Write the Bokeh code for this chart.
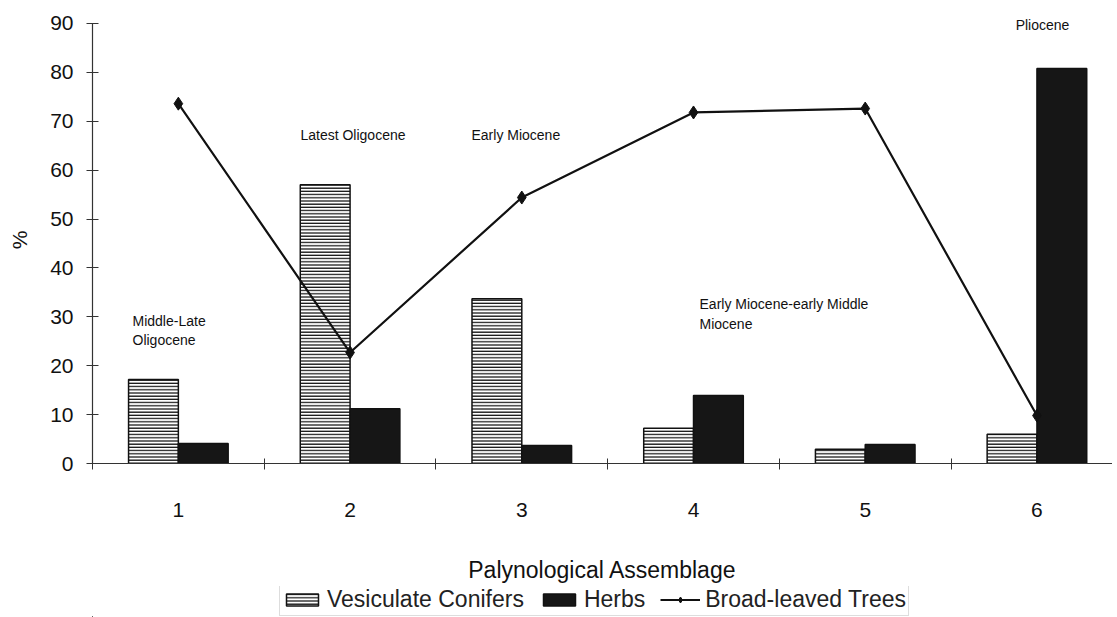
from bokeh.plotting import figure
from bokeh.layouts import column
from bokeh.models import (Range1d, FixedTicker, Legend, LegendItem, Label,
                          ColumnDataSource)
from bokeh.embed import file_html
from bokeh.resources import INLINE

# ---- data ----
assemblages = [1, 2, 3, 4, 5, 6]
vesiculate_conifers = [17.2, 57.0, 33.7, 7.2, 2.9, 6.0]
herbs = [4.1, 11.2, 3.7, 13.9, 3.9, 80.8]
broad_leaved_trees = [73.6, 22.7, 54.4, 71.8, 72.6, 9.8]
y_ticks = [0, 10, 20, 30, 40, 50, 60, 70, 80, 90]
series_names = ["Vesiculate Conifers", "Herbs", "Broad-leaved Trees"]

period_texts = ["Middle-Late", "Oligocene", "Latest Oligocene", "Early Miocene",
                "Early Miocene-early Middle", "Miocene", "Pliocene"]
period_x = [0.733, 0.733, 1.711, 2.707, 4.035, 4.035, 5.876]
period_y = [29.2, 25.2, 67.1, 67.1, 32.7, 28.6, 89.6]

FONT = "Liberation Sans"
BAR_W = 0.29
INK = "#111111"

ves_style = dict(fill_color="white", line_color=INK, line_width=1.5,
                 hatch_pattern="horizontal_line", hatch_color=INK,
                 hatch_scale=3.2, hatch_weight=1.3)
herb_style = dict(fill_color="#161616", line_color=INK, line_width=1.5)
line_style = dict(line_color=INK, line_width=2.2)

p = figure(width=1112, height=586, output_backend="svg", toolbar_location=None,
           x_range=Range1d(0.5, 6.44), y_range=Range1d(0, 91.43),
           min_border_left=92, min_border_right=0, min_border_top=16,
           min_border_bottom=123)
p.outline_line_color = None
p.xgrid.visible = False
p.ygrid.visible = False

src = ColumnDataSource(dict(
    x_v=[a - BAR_W / 2 for a in assemblages],
    x_h=[a + BAR_W / 2 for a in assemblages],
    x=assemblages,
    ves=vesiculate_conifers, herbs=herbs, trees=broad_leaved_trees))

p.vbar(x="x_v", top="ves", width=BAR_W, source=src, **ves_style)
p.vbar(x="x_h", top="herbs", width=BAR_W, source=src, **herb_style)
p.line(x="x", y="trees", source=src, **line_style)
p.scatter(x="x", y="trees", source=src, marker="diamond", size=13,
          fill_color=INK, line_color=INK)

# axes
xa = p.xaxis[0]
xa.ticker = FixedTicker(ticks=assemblages,
                        minor_ticks=[a - 0.5 for a in assemblages] + [6.5])
xa.major_tick_in = 0
xa.major_tick_out = 0
xa.minor_tick_in = 5
xa.minor_tick_out = 6
xa.minor_tick_line_color = "#333333"
xa.axis_line_color = "#333333"
xa.axis_line_width = 1.2
xa.major_label_text_font = FONT
xa.major_label_text_font_size = "21px"
xa.major_label_text_color = INK
xa.major_label_standoff = 33
xa.axis_label = "Palynological Assemblage"
xa.axis_label_text_font = FONT
xa.axis_label_text_font_size = "23px"
xa.axis_label_text_font_style = "normal"
xa.axis_label_text_color = INK
xa.axis_label_standoff = 37

ya = p.yaxis[0]
ya.ticker = FixedTicker(ticks=y_ticks)
ya.bounds = (0, 90)
ya.major_tick_in = 6
ya.major_tick_out = 6
ya.minor_tick_line_color = None
ya.axis_line_color = "#333333"
ya.axis_line_width = 1.2
ya.major_tick_line_color = "#333333"
ya.major_label_text_font = FONT
ya.major_label_text_font_size = "21px"
ya.major_label_text_color = INK
ya.major_label_standoff = 13
ya.axis_label = "%"
ya.axis_label_text_font = FONT
ya.axis_label_text_font_size = "21px"
ya.axis_label_text_font_style = "normal"
ya.axis_label_text_color = INK
ya.axis_label_standoff = 16

# period annotations
for t, xx, yy in zip(period_texts, period_x, period_y):
    p.add_layout(Label(x=xx, y=yy, text=t, text_font=FONT, text_font_size="14px",
                       text_color=INK, text_baseline="middle", text_align="left"))

# ---- legend strip (separate figure so the legend is not clipped) ----
# same data, but viewed through ranges that keep the marks out of sight:
# only the legend swatches of this strip are visible.
lg = figure(width=1112, height=31, output_backend="svg", toolbar_location=None,
            x_range=Range1d(100, 101), y_range=Range1d(200, 201),
            x_axis_type=None, y_axis_type=None,
            min_border_left=0, min_border_right=0, min_border_top=0,
            min_border_bottom=0)
lg.outline_line_color = None
lg.xgrid.visible = False
lg.ygrid.visible = False
g_ves = lg.vbar(x="x_v", top="ves", width=BAR_W, source=src, **ves_style)
g_herb = lg.vbar(x="x_h", top="herbs", width=BAR_W, source=src, **herb_style)
g_line = lg.line(x="x", y="trees", source=src, **line_style)
g_pt = lg.scatter(x="x", y="trees", source=src, marker="diamond", size=11,
                  fill_color=INK, line_color=INK)

legend = Legend(items=[
    LegendItem(label=series_names[0], renderers=[g_ves]),
    LegendItem(label=series_names[1], renderers=[g_herb]),
    LegendItem(label=series_names[2], renderers=[g_line, g_pt]),
], orientation="horizontal", location=(187, 1),
    label_text_font=FONT, label_text_font_size="23px",
    label_text_color="#222222", glyph_width=40, glyph_height=15,
    label_height=22, label_standoff=5, spacing=15, padding=2, margin=0,
    border_line_color="#bbbbbb", border_line_width=1.5,
    background_fill_alpha=0)
lg.add_layout(legend, "center")

open("out.html", "w").write(file_html(column(p, lg, spacing=0), INLINE))
